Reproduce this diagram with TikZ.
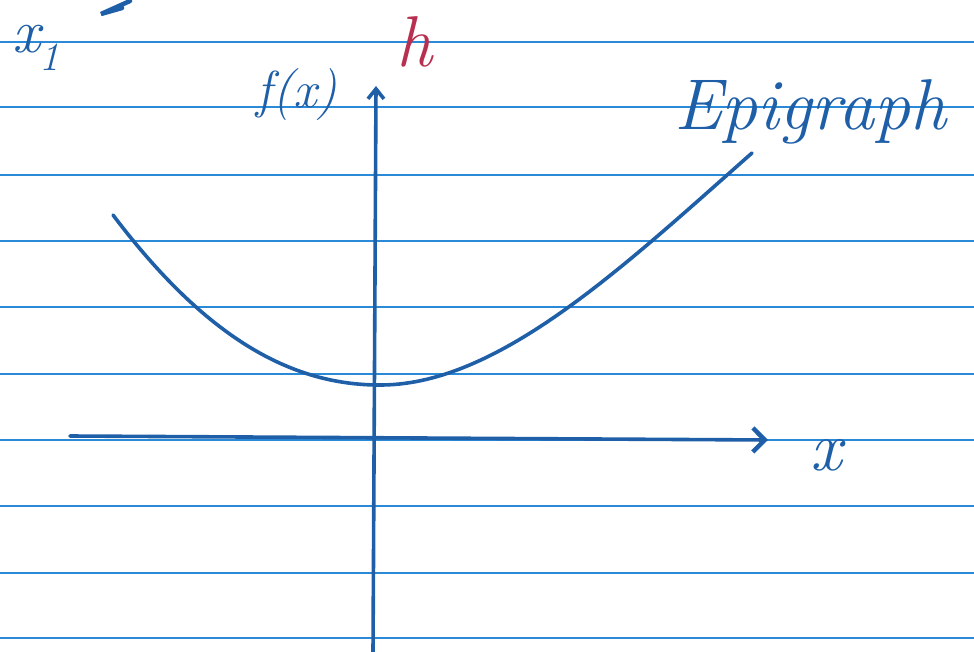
\documentclass[tikz,border=0pt]{standalone}
\usetikzlibrary{arrows.meta}
\definecolor{rule}{HTML}{2A8AD8}
\definecolor{pen}{HTML}{1E5FA8}
\definecolor{redpen}{HTML}{B8304F}
\begin{document}
\begin{tikzpicture}[x=1pt,y=-1pt,
  ruleline/.style={draw=rule,line width=2.2pt},
  penline/.style={draw=pen,line width=3.6pt,line cap=round},
  lab/.style={text=pen,inner sep=0pt}]
\useasboundingbox (0,0) rectangle (974,652);
% ruled lines
\foreach \yy in {42,107,175,241,307,374,440,506,573,638}
  \draw[ruleline] (0,\yy) -- (974,\yy);
% axes
\coordinate (vb) at (373,652);
\coordinate (vt) at (376,86);
\coordinate (hl) at (70,436);
\coordinate (hr) at (768,440);
\draw[penline,-{Straight Barb[length=10pt,width=16pt]}] (vb) -- (vt);
\draw[penline,-{Straight Barb[length=12pt,width=24pt,line width=4.5pt]}] (hl) -- (hr);
% curve
\coordinate (cs) at (113,215);
\coordinate (cm) at (382,385);
\coordinate (ce) at (752,153);
\draw[penline] (cs) .. controls (200,330) and (285,386) .. (cm)
  .. controls (500,384) and (625,265) .. (ce);
% small stroke at top
\coordinate (s1) at (101,14);
\coordinate (s2) at (130,1);
\coordinate (s3) at (122,8);
\draw[penline,line width=4.5pt] (s2) -- (s1) -- (s3);
% labels
\node[lab,font=\fontsize{62}{70}\selectfont\itshape] (x1) at (36,48) {x\raisebox{-0.3em}{\fontsize{40}{44}\selectfont 1}};
\node[lab,font=\fontsize{52}{60}\selectfont\itshape] (fx) at (297,95) {f(x)};
\node[lab,text=redpen,font=\fontsize{72}{80}\selectfont\itshape] (h) at (414,42) {h};
\node[lab,font=\fontsize{72}{82}\selectfont\itshape] (epi) at (810,112) {Epigraph};
\node[lab,font=\fontsize{70}{80}\selectfont\itshape] (xl) at (826,455) {x};
\end{tikzpicture}
\end{document}
